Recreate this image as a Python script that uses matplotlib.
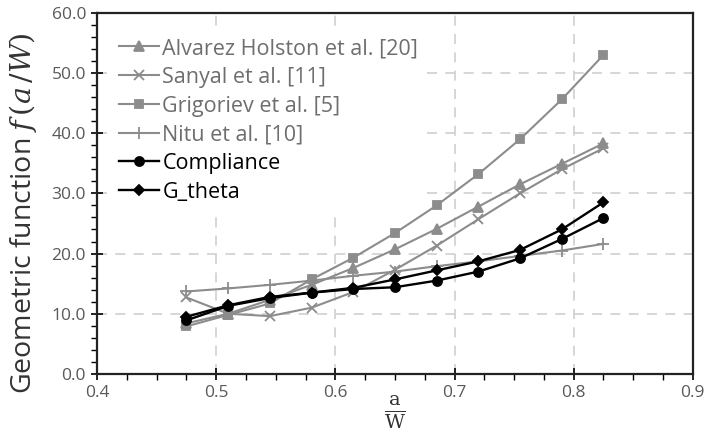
import numpy as np
import matplotlib
matplotlib.use("Agg")
import matplotlib.pyplot as plt
from matplotlib.ticker import MultipleLocator, FormatStrFormatter

plt.rcParams["font.family"] = ["Open Sans", "DejaVu Sans"]
plt.rcParams["mathtext.fontset"] = "dejavuserif"

# crack length ratio a/W
a_w = [0.475, 0.51, 0.545, 0.58, 0.615, 0.65, 0.685, 0.72, 0.755, 0.79, 0.825]

alvarez = [8.4, 10.0, 12.3, 14.8, 17.6, 20.7, 24.1, 27.8, 31.5, 34.9, 38.3]
sanyal = [12.7, 10.0, 9.6, 11.0, 13.6, 17.3, 21.3, 25.7, 30.0, 34.0, 37.5]
grigoriev = [7.9, 9.8, 11.7, 15.7, 19.3, 23.4, 28.0, 33.2, 39.0, 45.6, 53.0]
nitu = [13.7, 14.2, 14.8, 15.5, 16.3, 17.0, 17.9, 18.7, 19.6, 20.5, 21.6]
compliance = [8.9, 11.3, 12.6, 13.5, 14.1, 14.4, 15.5, 17.0, 19.2, 22.4, 25.9]
g_theta = [9.5, 11.4, 12.8, 13.5, 14.3, 15.7, 17.2, 18.7, 20.6, 24.0, 28.5]

GRAY, BLACK = "#8c8c8c", "#000000"
series = [
    ("Alvarez Holston et al. [20]", alvarez, GRAY, "^", 6.5, 1.5),
    ("Sanyal et al. [11]", sanyal, GRAY, "x", 7, 1.5),
    ("Grigoriev et al. [5]", grigoriev, GRAY, "s", 6, 1.5),
    ("Nitu et al. [10]", nitu, GRAY, "+", 8, 1.5),
    ("Compliance", compliance, BLACK, "o", 6.5, 1.7),
    ("G_theta", g_theta, BLACK, "D", 5, 1.7),
]

fig = plt.figure(figsize=(7.04, 4.43), dpi=100)
ax = fig.add_axes([0.138, 0.156, 0.846, 0.815])

for label, y, col, mk, ms, lw in series:
    ax.plot(a_w, y, "-", color=col, lw=lw, marker=mk, ms=ms,
            mec=col, mfc=col, mew=1.3, label=label)

ax.set_xlim(0.4, 0.9)
ax.set_ylim(0, 60)
ax.xaxis.set_major_locator(MultipleLocator(0.1))
ax.xaxis.set_minor_locator(MultipleLocator(0.025))
ax.yaxis.set_major_locator(MultipleLocator(10))
ax.yaxis.set_minor_locator(MultipleLocator(2))
ax.xaxis.set_major_formatter(FormatStrFormatter("%.1f"))
ax.yaxis.set_major_formatter(FormatStrFormatter("%.1f"))
ax.tick_params(which="major", direction="inout", length=8, width=1.2,
               labelsize=12.5, labelcolor="#595959", pad=4)
ax.tick_params(which="minor", direction="out", length=4, width=1.0)
ax.grid(True, which="major", ls=(0, (6, 5)), color="#d0d0d0", lw=1.2)
ax.set_axisbelow(True)
for sp in ax.spines.values():
    sp.set_color("#222222")
    sp.set_linewidth(1.6)

ax.set_ylabel(r"Geometric function $f\,(a\,/W)$", fontsize=20.5,
              color="#333333")
ax.yaxis.set_label_coords(-0.098, 0.445)
ax.set_xlabel(r"$\frac{\mathrm{a}}{\mathrm{W}}$", fontsize=20, color="#333333",
              labelpad=-6)

leg = ax.legend(loc="upper left", bbox_to_anchor=(0.01, 0.975), fontsize=15.5,
                frameon=True, framealpha=1, edgecolor="white", handlelength=1.85,
                handletextpad=0.15, labelspacing=0.36, borderpad=0.25,
                fancybox=False)
for txt, s in zip(leg.get_texts(), series):
    txt.set_color("#6e6e6e" if s[2] == GRAY else BLACK)

fig.savefig("out.png", dpi=100)
